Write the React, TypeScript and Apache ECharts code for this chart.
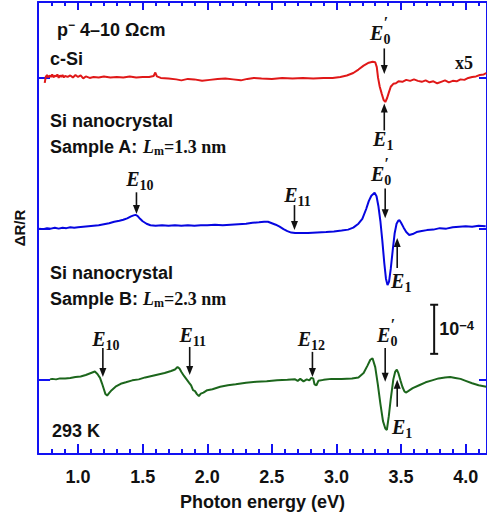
import React, { useEffect, useRef } from "react";
import * as echarts from "echarts";

// Axis extents (photon energy in eV; ΔR/R in units of 1e-4)
const X_MIN = 0.69;
const X_MAX = 4.165;
const Y_MIN = -1.52;
const Y_MAX = 7.686;

const majorTicks = [1.0, 1.5, 2.0, 2.5, 3.0, 3.5, 4.0];
const minorTicks = [
  0.8, 0.9, 1.1, 1.2, 1.3, 1.4, 1.6, 1.7, 1.8, 1.9, 2.1, 2.2, 2.3, 2.4, 2.6, 2.7,
  2.8, 2.9, 3.1, 3.2, 3.3, 3.4, 3.6, 3.7, 3.8, 3.9, 4.1,
];

// Vertical offsets of the three spectra (1e-4 units)
const offsetCSi = 6.14;
const offsetA = 3.07;
const offsetB = 0;
const baselineTicks = [offsetB, offsetA, offsetCSi];

// c-Si reference spectrum, shown multiplied by 5
const cSiSpectrum: [number, number][] = [
  [0.742, -0.1], [0.75, 0.02], [0.76, 0.06], [0.77, 0.01], [0.78, 0.05], [0.79, 0.02],
  [0.8, 0.07], [0.81, 0.01], [0.82, 0.05], [0.83, 0.03], [0.84, 0.07], [0.85, 0.0],
  [0.86, 0.05], [0.87, 0.02], [0.88, 0.06], [0.89, 0.01], [0.9, 0.04], [0.92, 0.02],
  [0.94, 0.05], [0.96, 0.01], [0.98, 0.06], [1.0, 0.02], [1.02, 0.05], [1.04, -0.01],
  [1.06, 0.03], [1.09, 0.0], [1.12, 0.02], [1.16, 0.01], [1.2, 0.03], [1.25, 0.01],
  [1.3, 0.02], [1.35, 0.01], [1.4, 0.03], [1.45, 0.01], [1.5, 0.02], [1.55, 0.02],
  [1.585, 0.04], [1.598, 0.11], [1.61, 0.03], [1.64, 0.0], [1.7, -0.01], [1.76, -0.03],
  [1.8, -0.05], [1.85, -0.02], [1.9, -0.03], [1.96, -0.06], [2.02, -0.04], [2.08, -0.02],
  [2.14, -0.01], [2.2, -0.03], [2.26, -0.05], [2.31, -0.02], [2.36, 0.0], [2.42, -0.01],
  [2.5, -0.02], [2.58, 0.0], [2.66, -0.01], [2.74, 0.0], [2.82, -0.01], [2.9, 0.0],
  [2.97, 0.0], [3.03, 0.02], [3.08, 0.05], [3.13, 0.1], [3.17, 0.17], [3.21, 0.25],
  [3.25, 0.31], [3.28, 0.33], [3.3, 0.32], [3.312, 0.22], [3.322, 0.0], [3.335, -0.18],
  [3.35, -0.32], [3.365, -0.45], [3.378, -0.49], [3.392, -0.41], [3.405, -0.3],
  [3.42, -0.18], [3.44, -0.12], [3.46, -0.11], [3.48, -0.07], [3.51, -0.08], [3.54, -0.04],
  [3.57, -0.06], [3.6, -0.03], [3.63, -0.06], [3.66, -0.08], [3.69, -0.05], [3.72, -0.09],
  [3.75, -0.07], [3.78, -0.11], [3.81, -0.08], [3.84, -0.05], [3.87, -0.09], [3.9, -0.06],
  [3.93, -0.07], [3.96, -0.03], [3.99, -0.04], [4.02, 0.0], [4.05, 0.02], [4.08, 0.03],
  [4.11, 0.06], [4.14, 0.07], [4.16, 0.1],
];

// Si nanocrystal, sample A (Lm = 1.3 nm)
const sampleASpectrum: [number, number][] = [
  [0.7, 0.0], [0.73, -0.01], [0.76, 0.01], [0.79, 0.0], [0.82, 0.02], [0.85, 0.0],
  [0.88, 0.02], [0.91, 0.01], [0.94, 0.03], [0.97, 0.02], [1.0, 0.03], [1.04, 0.04],
  [1.08, 0.05], [1.12, 0.06], [1.16, 0.07], [1.2, 0.09], [1.24, 0.11], [1.28, 0.14],
  [1.32, 0.16], [1.35, 0.18], [1.38, 0.21], [1.41, 0.25], [1.43, 0.27], [1.445, 0.28],
  [1.46, 0.26], [1.48, 0.2], [1.5, 0.15], [1.53, 0.1], [1.56, 0.07], [1.6, 0.06],
  [1.65, 0.07], [1.7, 0.06], [1.75, 0.07], [1.8, 0.06], [1.85, 0.07], [1.9, 0.06],
  [1.95, 0.07], [2.0, 0.07], [2.06, 0.08], [2.12, 0.07], [2.18, 0.08], [2.24, 0.09],
  [2.3, 0.1], [2.35, 0.12], [2.4, 0.13], [2.44, 0.14], [2.47, 0.14], [2.5, 0.11],
  [2.53, 0.08], [2.56, 0.04], [2.59, -0.01], [2.62, -0.05], [2.65, -0.08], [2.68, -0.09],
  [2.72, -0.09], [2.78, -0.09], [2.85, -0.08], [2.92, -0.07], [2.98, -0.06], [3.04, -0.04],
  [3.09, -0.02], [3.13, 0.02], [3.17, 0.1], [3.2, 0.2], [3.23, 0.4], [3.25, 0.56],
  [3.27, 0.67], [3.295, 0.73], [3.31, 0.66], [3.325, 0.45], [3.34, 0.15], [3.355, -0.25],
  [3.37, -0.7], [3.383, -1.02], [3.395, -1.15], [3.407, -1.08], [3.42, -0.82],
  [3.435, -0.45], [3.45, -0.1], [3.465, 0.1], [3.478, 0.16], [3.488, 0.17], [3.5, 0.12],
  [3.52, 0.02], [3.54, -0.07], [3.563, -0.13], [3.59, -0.11], [3.62, -0.07], [3.66, -0.05],
  [3.7, -0.03], [3.75, -0.02], [3.8, 0.01], [3.85, 0.0], [3.9, 0.03], [3.95, 0.04],
  [4.0, 0.05], [4.05, 0.04], [4.1, 0.06], [4.155, 0.05],
];

// Si nanocrystal, sample B (Lm = 2.3 nm)
const sampleBSpectrum: [number, number][] = [
  [0.783, 0.0], [0.8, 0.01], [0.83, 0.0], [0.86, 0.02], [0.9, 0.02], [0.94, 0.03],
  [0.98, 0.05], [1.02, 0.06], [1.06, 0.09], [1.09, 0.12], [1.11, 0.14], [1.13, 0.16],
  [1.15, 0.11], [1.17, 0.03], [1.185, -0.08], [1.2, -0.2], [1.212, -0.3], [1.225, -0.33],
  [1.24, -0.28], [1.26, -0.22], [1.29, -0.15], [1.33, -0.09], [1.37, -0.06], [1.42, -0.02],
  [1.47, 0.0], [1.52, 0.04], [1.57, 0.07], [1.62, 0.1], [1.67, 0.13], [1.72, 0.17],
  [1.75, 0.2], [1.77, 0.25], [1.785, 0.22], [1.8, 0.15], [1.82, 0.07], [1.84, 0.0],
  [1.86, -0.07], [1.875, -0.12], [1.89, -0.22], [1.905, -0.24], [1.92, -0.3], [1.935, -0.34],
  [1.95, -0.29], [1.97, -0.27], [2.0, -0.22], [2.04, -0.2], [2.1, -0.15], [2.16, -0.12],
  [2.22, -0.1], [2.3, -0.07], [2.38, -0.05], [2.46, -0.04], [2.54, -0.02], [2.62, -0.01],
  [2.68, 0.0], [2.7, -0.03], [2.72, 0.01], [2.745, -0.04], [2.77, 0.0], [2.79, -0.02],
  [2.805, 0.03], [2.82, 0.02], [2.83, -0.1], [2.845, -0.12], [2.86, -0.03], [2.9, -0.01],
  [2.96, 0.01], [3.04, 0.01], [3.12, 0.02], [3.17, 0.04], [3.21, 0.13], [3.24, 0.28],
  [3.262, 0.4], [3.279, 0.43], [3.3, 0.25], [3.32, -0.1], [3.34, -0.5], [3.36, -0.85],
  [3.378, -1.0], [3.39, -1.03], [3.405, -0.75], [3.42, -0.4], [3.44, 0.0], [3.455, 0.16],
  [3.467, 0.2], [3.48, 0.12], [3.495, -0.02], [3.51, -0.15], [3.525, -0.24], [3.537, -0.27],
  [3.555, -0.24], [3.59, -0.18], [3.64, -0.12], [3.69, -0.06], [3.74, -0.02], [3.79, 0.02],
  [3.84, 0.04], [3.88, 0.05], [3.92, 0.03], [3.96, 0.01], [4.0, -0.03], [4.05, -0.08],
  [4.1, -0.12], [4.16, -0.15],
];

// Transition markers: [subscript, primed, energy, arrow tail, arrow tip, label energy, label y]
// (y values relative to the spectrum baseline, 1e-4 units)
type Marker = [string, boolean, number, number, number, number, number];
const cSiMarkers: Marker[] = [
  ["0", true, 3.37, 0.6, 0.08, 3.339, 0.87],
  ["1", false, 3.37, -1.07, -0.52, 3.362, -1.29],
];
const sampleAMarkers: Marker[] = [
  ["10", false, 1.452, 0.74, 0.3, 1.478, 0.97],
  ["11", false, 2.675, 0.48, -0.03, 2.698, 0.64],
  ["0", true, 3.377, 0.82, 0.21, 3.346, 1.07],
  ["1", false, 3.47, -0.8, -0.19, 3.501, -1.11],
];
const sampleBMarkers: Marker[] = [
  ["10", false, 1.192, 0.64, 0.05, 1.215, 0.78],
  ["11", false, 1.864, 0.66, 0.09, 1.887, 0.86],
  ["12", false, 2.814, 0.56, 0.05, 2.806, 0.78],
  ["0", true, 3.377, 0.64, -0.05, 3.393, 0.86],
  ["1", false, 3.47, -0.56, -0.01, 3.508, -1.02],
];

// 1e-4 scale bar: energy position and vertical span
const scaleBarEnergy = 3.756;
const scaleBarSpan = [0.52, 1.52];

const SANS = "'Liberation Sans', Arial, Helvetica, sans-serif";
const SERIF = "'Liberation Serif', 'Times New Roman', Times, serif";
const AXIS_BLUE = "#1212f2";
const INK = "#111111";

type Seg = {
  t: string;
  size: number;
  family: string;
  italic?: boolean;
  dy?: number;
  advance?: boolean;
};

const measureCtx = document.createElement("canvas").getContext("2d")!;
const fontOf = (s: Seg) => `${s.italic ? "italic " : ""}bold ${s.size}px ${s.family}`;

// Lay out a run of differently styled text pieces (sub/superscripts) as graphic texts
function textRun(segs: Seg[], x: number, y: number, align: "left" | "center") {
  const widths = segs.map((s) => {
    measureCtx.font = fontOf(s);
    return measureCtx.measureText(s.t).width;
  });
  let total = 0;
  segs.forEach((s, i) => {
    if (s.advance !== false) total += widths[i];
  });
  let cx = align === "center" ? x - total / 2 : x;
  const out: any[] = [];
  segs.forEach((s, i) => {
    out.push({
      type: "text",
      x: cx,
      y: y + (s.dy ?? 0),
      silent: true,
      style: {
        text: s.t,
        fontSize: s.size,
        fontFamily: s.family,
        fontWeight: "bold",
        fontStyle: s.italic ? "italic" : "normal",
        fill: INK,
        align: "left",
        verticalAlign: "middle",
        textAlign: "left",
        textVerticalAlign: "middle",
      },
    });
    if (s.advance !== false) cx += widths[i];
  });
  return out;
}

function energyLabel(sub: string, primed: boolean): Seg[] {
  const segs: Seg[] = [{ t: "E", size: 20, family: SERIF, italic: true }];
  if (primed) segs.push({ t: "′", size: 16, family: SERIF, italic: true, dy: -11, advance: false });
  segs.push({ t: sub, size: 14, family: SERIF, dy: 6 });
  return segs;
}

export default function App() {
  const ref = useRef<HTMLDivElement>(null);

  useEffect(() => {
    const el = ref.current;
    if (!el) return;
    const chart = echarts.init(el, null, { renderer: "svg" });

    const tickLine = { color: AXIS_BLUE, width: 2 };
    const axisLine = { show: true, onZero: false, lineStyle: { color: AXIS_BLUE, width: 2 } };
    const noLine = { show: false, onZero: false };
    const gridRect = { left: 38, top: 2, width: 450, height: 452 };

    const shift = (data: [number, number][], off: number) => data.map(([e, v]) => [e, v + off]);

    chart.setOption({
      animation: false,
      backgroundColor: "#ffffff",
      grid: [
        { ...gridRect, containLabel: false },
        { ...gridRect, containLabel: false },
      ],
      xAxis: [
        {
          type: "value",
          gridIndex: 0,
          position: "bottom",
          min: X_MIN,
          max: X_MAX,
          axisLine,
          axisTick: { show: true, inside: true, length: 10, customValues: majorTicks, lineStyle: tickLine },
          axisLabel: {
            customValues: majorTicks,
            formatter: (v: number) => v.toFixed(1),
            color: INK,
            fontFamily: SANS,
            fontWeight: "bold",
            fontSize: 18,
            margin: 14,
          },
          splitLine: { show: false },
          name: "Photon energy (eV)",
          nameLocation: "middle",
          nameGap: 39,
          nameTextStyle: { color: INK, fontFamily: SANS, fontWeight: "bold", fontSize: 18 },
        },
        {
          type: "value",
          gridIndex: 0,
          position: "top",
          min: X_MIN,
          max: X_MAX,
          axisLine,
          axisTick: { show: true, inside: true, length: 8, customValues: majorTicks, lineStyle: tickLine },
          axisLabel: { show: false },
          splitLine: { show: false },
        },
        {
          type: "value",
          gridIndex: 1,
          position: "bottom",
          min: X_MIN,
          max: X_MAX,
          axisLine: noLine,
          axisTick: { show: true, inside: true, length: 5, customValues: minorTicks, lineStyle: tickLine },
          axisLabel: { show: false },
          splitLine: { show: false },
        },
        {
          type: "value",
          gridIndex: 1,
          position: "top",
          min: X_MIN,
          max: X_MAX,
          axisLine: noLine,
          axisTick: { show: true, inside: true, length: 4, customValues: minorTicks, lineStyle: tickLine },
          axisLabel: { show: false },
          splitLine: { show: false },
        },
      ],
      yAxis: [
        {
          type: "value",
          gridIndex: 0,
          position: "left",
          min: Y_MIN,
          max: Y_MAX,
          axisLine,
          axisTick: { show: true, inside: true, length: 12, customValues: baselineTicks, lineStyle: tickLine },
          axisLabel: { show: false },
          splitLine: { show: false },
          name: "ΔR/R",
          nameLocation: "middle",
          nameGap: 11,
          nameTextStyle: { color: INK, fontFamily: SANS, fontWeight: "bold", fontSize: 15 },
        },
        {
          type: "value",
          gridIndex: 0,
          position: "right",
          min: Y_MIN,
          max: Y_MAX,
          axisLine,
          axisTick: { show: true, inside: true, length: 8, customValues: baselineTicks, lineStyle: tickLine },
          axisLabel: { show: false },
          splitLine: { show: false },
        },
        {
          type: "value",
          gridIndex: 1,
          min: Y_MIN,
          max: Y_MAX,
          show: false,
        },
      ],
      series: [
        {
          name: "c-Si",
          type: "line",
          xAxisIndex: 0,
          yAxisIndex: 0,
          data: shift(cSiSpectrum, offsetCSi),
          showSymbol: false,
          lineStyle: { color: "#e01818", width: 2 },
          z: 3,
        },
        {
          name: "Sample A",
          type: "line",
          xAxisIndex: 0,
          yAxisIndex: 0,
          data: shift(sampleASpectrum, offsetA),
          showSymbol: false,
          lineStyle: { color: "#0606e0", width: 2 },
          z: 3,
        },
        {
          name: "Sample B",
          type: "line",
          xAxisIndex: 0,
          yAxisIndex: 0,
          data: shift(sampleBSpectrum, offsetB),
          showSymbol: false,
          lineStyle: { color: "#1c661c", width: 2 },
          z: 3,
        },
      ],
    });

    const toPx = (e: number, y: number) =>
      chart.convertToPixel({ xAxisIndex: 0, yAxisIndex: 0 }, [e, y]) as number[];

    const graphics: any[] = [];

    const addMarkers = (markers: Marker[], off: number) => {
      markers.forEach(([sub, primed, e, tail, tip, labelE, labelY]) => {
        const [tx, ty] = toPx(e, tail + off);
        const [, py] = toPx(e, tip + off);
        const dir = py > ty ? 1 : -1;
        const headLen = 9;
        const headHalf = 3.5;
        graphics.push({
          type: "line",
          silent: true,
          shape: { x1: tx, y1: ty, x2: tx, y2: py - dir * headLen + dir },
          style: { stroke: INK, lineWidth: 1.6 },
        });
        graphics.push({
          type: "polygon",
          silent: true,
          shape: {
            points: [
              [tx, py],
              [tx - headHalf, py - dir * headLen],
              [tx + headHalf, py - dir * headLen],
            ],
          },
          style: { fill: INK },
        });
        const [lx, ly] = toPx(labelE, labelY + off);
        graphics.push(...textRun(energyLabel(sub, primed), lx, ly - 2, "center"));
      });
    };
    addMarkers(cSiMarkers, offsetCSi);
    addMarkers(sampleAMarkers, offsetA);
    addMarkers(sampleBMarkers, offsetB);

    // 1e-4 scale bar
    const [bx, by0] = toPx(scaleBarEnergy, scaleBarSpan[0]);
    const [, by1] = toPx(scaleBarEnergy, scaleBarSpan[1]);
    const barStyle = { stroke: INK, lineWidth: 2 };
    graphics.push(
      { type: "line", silent: true, shape: { x1: bx, y1: by0, x2: bx, y2: by1 }, style: barStyle },
      { type: "line", silent: true, shape: { x1: bx - 4, y1: by0, x2: bx + 4, y2: by0 }, style: barStyle },
      { type: "line", silent: true, shape: { x1: bx - 4, y1: by1, x2: bx + 4, y2: by1 }, style: barStyle }
    );
    graphics.push(
      ...textRun(
        [
          { t: "10", size: 18, family: SANS },
          { t: "−4", size: 13, family: SANS, dy: -4 },
        ],
        bx + 5,
        (by0 + by1) / 2,
        "left"
      )
    );

    // Panel captions
    graphics.push(
      ...textRun(
        [
          { t: "p", size: 18, family: SANS },
          { t: "−", size: 12, family: SANS, dy: -5 },
          { t: " 4–10 Ωcm", size: 18, family: SANS },
        ],
        57,
        30,
        "left"
      ),
      ...textRun([{ t: "c-Si", size: 18, family: SANS }], 50, 59, "left"),
      ...textRun([{ t: "x5", size: 18, family: SERIF }], 455, 63, "left"),
      ...textRun([{ t: "Si nanocrystal", size: 18, family: SANS }], 50, 121, "left"),
      ...textRun(
        [
          { t: "Sample A: ", size: 18, family: SANS },
          { t: "L", size: 18, family: SERIF, italic: true },
          { t: "m", size: 12, family: SERIF, dy: 4 },
          { t: "=1.3 nm", size: 18, family: SERIF },
        ],
        50,
        147,
        "left"
      ),
      ...textRun([{ t: "Si nanocrystal", size: 18, family: SANS }], 50, 273, "left"),
      ...textRun(
        [
          { t: "Sample B: ", size: 18, family: SANS },
          { t: "L", size: 18, family: SERIF, italic: true },
          { t: "m", size: 12, family: SERIF, dy: 4 },
          { t: "=2.3 nm", size: 18, family: SERIF },
        ],
        50,
        299,
        "left"
      ),
      ...textRun([{ t: "293 K", size: 18, family: SANS }], 52, 431, "left")
    );

    chart.setOption({ graphic: { elements: graphics } });

    return () => {
      chart.dispose();
    };
  }, []);

  return (
    <div
      ref={ref}
      style={{ position: "fixed", left: 0, top: 0, width: 487, height: 520, background: "#ffffff" }}
    />
  );
}
